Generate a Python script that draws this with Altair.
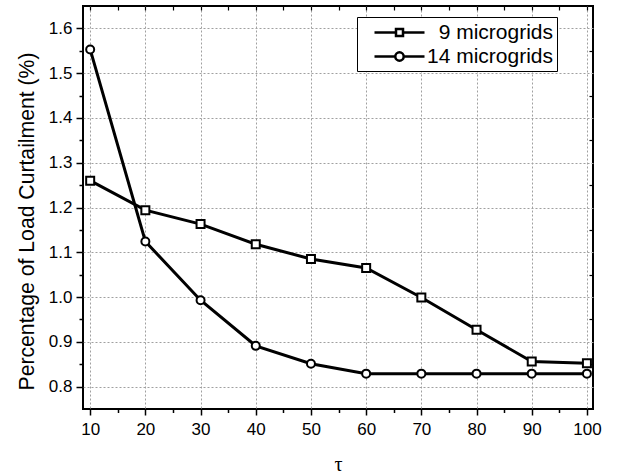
import altair as alt
import pandas as pd

# ---- data ----
tau = [10, 20, 30, 40, 50, 60, 70, 80, 90, 100]
mg9 = [1.260, 1.194, 1.163, 1.118, 1.085, 1.065, 0.999, 0.927, 0.856, 0.852]
mg14 = [1.553, 1.124, 0.993, 0.891, 0.851, 0.829, 0.829, 0.829, 0.829, 0.829]
series_names = ["9 microgrids", "14 microgrids"]

x_major = [10, 20, 30, 40, 50, 60, 70, 80, 90, 100]
x_minor = [15, 25, 35, 45, 55, 65, 75, 85, 95]
x_top = [10, 15, 20, 25, 30, 35, 40, 45, 50, 55, 60, 65, 70, 75, 80, 85, 90, 95, 100]
y_major = [0.8, 0.9, 1.0, 1.1, 1.2, 1.3, 1.4, 1.5, 1.6]
y_minor = [0.85, 0.95, 1.05, 1.15, 1.25, 1.35, 1.45, 1.55]

df = pd.DataFrame({
    "tau": tau + tau,
    "value": mg9 + mg14,
    "series": [series_names[0]] * len(tau) + [series_names[1]] * len(tau),
})

FONT = "Liberation Sans"
xscale = alt.Scale(domain=[8.7, 101.1], nice=False, zero=False)
yscale = alt.Scale(domain=[0.75, 1.65], nice=False, zero=False)

main_x_axis = alt.Axis(
    values=x_major, format="d", title="τ", grid=True, gridColor="#a0a0a0",
    gridDash=[2, 2], gridWidth=1, domain=False, tickSize=6, tickWidth=1.5,
    tickColor="black", labelFontSize=17, labelFont=FONT, labelColor="black",
    labelPadding=6, titleFont="Liberation Serif", titleFontSize=20,
    titleFontWeight="normal", titleColor="black", titleY=61,
    titleBaseline="alphabetic",
)
main_y_axis = alt.Axis(
    values=y_major, format=".1f", title="Percentage of Load Curtailment (%)",
    grid=True, gridColor="#a0a0a0", gridDash=[2, 2], gridWidth=1, domain=False,
    tickSize=7, tickWidth=1.5, tickColor="black", labelFontSize=17,
    labelFont=FONT, labelColor="black", labelPadding=4, titleFont=FONT,
    titleFontSize=21.2, titleFontWeight="normal", titleColor="black",
    titleX=-50, titleY=215, titleBaseline="alphabetic", titleAlign="center",
    titleAngle=270,
)

base = alt.Chart(df)

lines = base.mark_line(color="black", strokeWidth=3).encode(
    x=alt.X("tau:Q", scale=xscale, axis=main_x_axis),
    y=alt.Y("value:Q", scale=yscale, axis=main_y_axis),
    detail="series:N",
)

pts9 = base.transform_filter(alt.datum.series == series_names[0]).mark_point(
    shape="square", size=64, fill="white", stroke="black", strokeWidth=2,
    fillOpacity=1, strokeOpacity=1,
).encode(
    x=alt.X("tau:Q", scale=xscale, axis=None),
    y=alt.Y("value:Q", scale=yscale, axis=None),
)

pts14 = base.transform_filter(alt.datum.series == series_names[1]).mark_point(
    shape="circle", size=64, fill="white", stroke="black", strokeWidth=2,
    fillOpacity=1, strokeOpacity=1,
).encode(
    x=alt.X("tau:Q", scale=xscale, axis=None),
    y=alt.Y("value:Q", scale=yscale, axis=None),
)

empty = base.transform_filter(alt.datum.value < 0)

bottom_minor = empty.mark_point(opacity=0).encode(
    x=alt.X("tau:Q", scale=xscale, axis=alt.Axis(
        orient="bottom", values=x_minor, labels=False, title=None, grid=False,
        domain=False, tickSize=3.5, tickWidth=1.5, tickColor="black")),
)
top_ticks = empty.mark_point(opacity=0).encode(
    x=alt.X("tau:Q", scale=xscale, axis=alt.Axis(
        orient="top", values=x_top, labels=False, title=None, grid=False,
        domain=False, tickSize=4, tickWidth=1.2, tickColor="black", offset=-4)),
)
left_minor = empty.mark_point(opacity=0).encode(
    y=alt.Y("value:Q", scale=yscale, axis=alt.Axis(
        orient="left", values=y_minor, labels=False, title=None, grid=False,
        domain=False, tickSize=4, tickWidth=1.5, tickColor="black")),
)
right_ticks = empty.mark_point(opacity=0).encode(
    y=alt.Y("value:Q", scale=yscale, axis=alt.Axis(
        orient="right", values=y_minor, labels=False, title=None, grid=False,
        domain=False, tickSize=4, tickWidth=1.2, tickColor="black", offset=-4)),
)

sq_path = "M-2.5 0 L-0.35 0 M0.35 0 L2.5 0 M-0.35 -0.35 L0.35 -0.35 L0.35 0.35 L-0.35 0.35 Z"
ci_path = ("M-2.5 0 L-0.42 0 M0.42 0 L2.5 0 M0.42 0 "
           "A0.42 0.42 0 1 1 -0.42 0 A0.42 0.42 0 1 1 0.42 0 Z")

legend_layer = empty.mark_point(
    stroke="black", strokeWidth=2.5,
).encode(
    x=alt.X("tau:Q", scale=xscale, axis=None),
    y=alt.Y("value:Q", scale=yscale, axis=None),
    shape=alt.Shape("series:N", scale=alt.Scale(domain=series_names, range=[sq_path, ci_path]),
                    legend=alt.Legend(
                        title=None, orient="none", legendX=274, legendY=11,
                        fillColor="white", strokeColor="black", padding=4,
                        rowPadding=2, symbolSize=400, symbolStrokeWidth=2.5,
                        symbolStrokeColor="black", symbolFillColor="white",
                        symbolOpacity=1, symbolOffset=27, labelOffset=142,
                        labelAlign="right",
                        labelFontSize=21, labelFont=FONT, labelColor="black",
                        labelLimit=300,
                    )),
)

chart = alt.layer(
    lines, pts9, pts14, bottom_minor, top_ticks, left_minor, right_ticks, legend_layer
).resolve_axis(
    x="independent", y="independent"
).properties(
    width=510, height=403,
    autosize=alt.AutoSizeParams(type="none"),
    padding={"left": 83, "top": 6, "right": 27, "bottom": 67},
    background="white",
).configure_view(
    stroke="black", strokeWidth=2
)

chart.save("out.html", embed_options={"renderer": "svg", "actions": False})
